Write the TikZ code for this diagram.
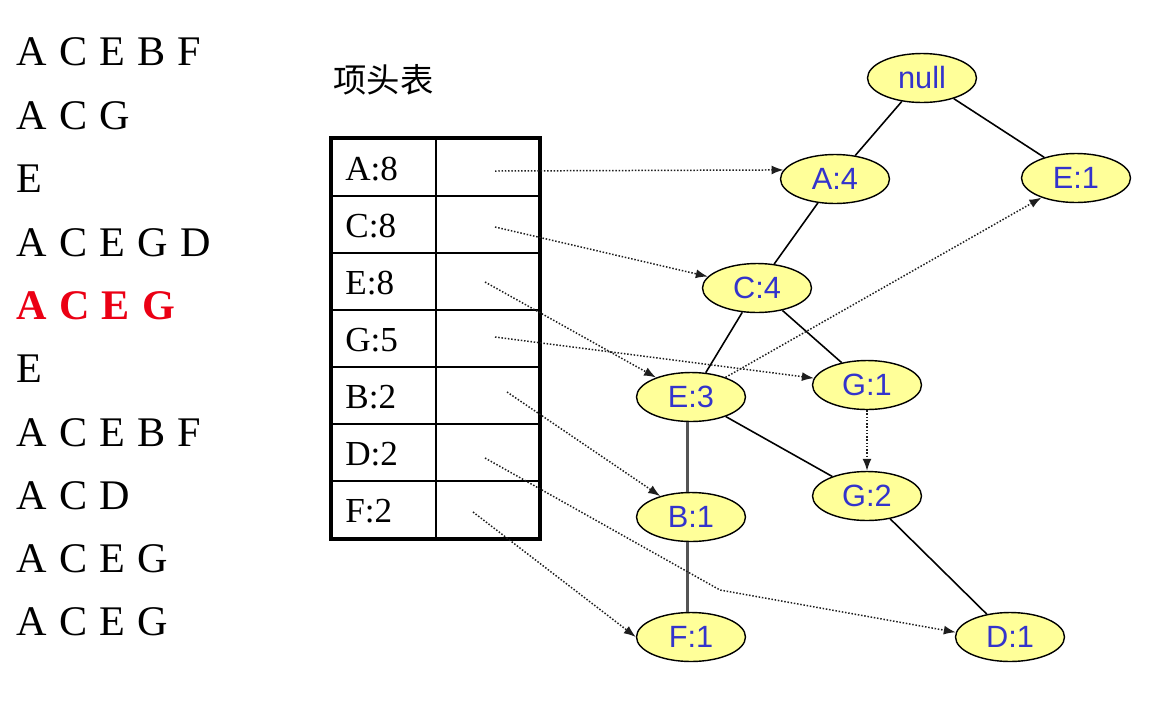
\documentclass[tikz,border=0pt]{standalone}
\usepackage{fontspec}
\setmainfont{Liberation Serif}
\newfontfamily\arialfont{Liberation Sans}
\newfontfamily\cjkfont{Noto Sans CJK SC}
\usetikzlibrary{arrows.meta, shapes.geometric}
\definecolor{nodefill}{RGB}{255,255,153}
\definecolor{nodetext}{RGB}{51,51,204}
\definecolor{linkgray}{RGB}{30,30,30}
\definecolor{treegray}{RGB}{85,85,85}
\definecolor{hotred}{RGB}{235,0,20}
\tikzset{
  tnode/.style  = {ellipse, draw=black, line width=0.8pt, fill=nodefill,
                   minimum width=2.18cm, minimum height=0.98cm, inner sep=0pt,
                   text=nodetext, font=\arialfont\fontsize{17.5}{20}\selectfont},
  trans/.style  = {anchor=west, inner sep=0pt, font=\fontsize{24}{28}\selectfont,
                   execute at begin node={\spaceskip=7pt\relax}},
  transhl/.style= {trans, text=hotred, font=\fontsize{24}{28}\selectfont\bfseries},
  hdr/.style    = {anchor=west, inner sep=0pt, font=\fontsize{20}{24}\selectfont},
  edge/.style   = {line width=0.9pt},
  link/.style   = {-{Latex[length=2.4mm,width=1.8mm]}, densely dotted,
                   line width=0.85pt, color=linkgray},
}
\begin{document}
\begin{tikzpicture}[x=0.02cm, y=-0.02cm]
  \useasboundingbox (0,0) rectangle (1163,711);
  % transactions
  \node[trans]   (t1)  at (16,52)  {A C E B F};
  \node[trans]   (t2)  at (16,116) {A C G};
  \node[trans]   (t3)  at (16,179) {E};
  \node[trans]   (t4)  at (16,243) {A C E G D};
  \node[transhl] (t5)  at (16,306) {A C E G};
  \node[trans]   (t6)  at (16,369) {E};
  \node[trans]   (t7)  at (16,433) {A C E B F};
  \node[trans]   (t8)  at (16,496) {A C D};
  \node[trans]   (t9)  at (16,559) {A C E G};
  \node[trans]   (t10) at (16,622) {A C E G};

  % header table
  \node[anchor=west, inner sep=0pt, font=\cjkfont\fontsize{19}{22}\selectfont]
    (title) at (333,80) {项头表};
  \draw[line width=1pt] (436,138) -- (436,539);
  \draw[line width=1pt] (331,196) -- (540,196);
  \draw[line width=1pt] (331,253) -- (540,253);
  \draw[line width=1pt] (331,310) -- (540,310);
  \draw[line width=1pt] (331,367) -- (540,367);
  \draw[line width=1pt] (331,424) -- (540,424);
  \draw[line width=1pt] (331,481) -- (540,481);
  \draw[line width=1.8pt] (331,138) rectangle (540,539);
  \node[hdr] (hA) at (345,169) {A:8};
  \node[hdr] (hC) at (345,226) {C:8};
  \node[hdr] (hE) at (345,283) {E:8};
  \node[hdr] (hG) at (345,340) {G:5};
  \node[hdr] (hB) at (345,397) {B:2};
  \node[hdr] (hD) at (345,454) {D:2};
  \node[hdr] (hF) at (345,511) {F:2};
  \coordinate (pA) at (495,171);
  \coordinate (pC) at (495,227);
  \coordinate (pE) at (485,282);
  \coordinate (pG) at (495,337);
  \coordinate (pB) at (507,392);
  \coordinate (pD) at (485,458);
  \coordinate (pF) at (473,512);
  \coordinate (bendD) at (720,590);

  % FP-tree
  \node[tnode] (root) at (922,78)  {null};
  \node[tnode] (a4)   at (835,179) {A:4};
  \node[tnode] (e1)   at (1076,178) {E:1};
  \node[tnode] (c4)   at (757,288) {C:4};
  \node[tnode] (e3)   at (691,397) {E:3};
  \node[tnode] (g1)   at (867,385) {G:1};
  \node[tnode] (g2)   at (867,496) {G:2};
  \node[tnode] (b1)   at (691,517) {B:1};
  \node[tnode] (f1)   at (691,637) {F:1};
  \node[tnode] (d1)   at (1010,637) {D:1};
  \draw[edge] (root) -- (a4);
  \draw[edge] (root) -- (e1);
  \draw[edge] (a4) -- (c4);
  \draw[edge] (c4) -- (e3);
  \draw[edge] (c4) -- (g1);
  \draw[edge] (e3) -- (g2);
  \draw[edge] (g2) -- (d1);
  \draw[edge, treegray, line width=1.4pt] (e3.-98) -- (b1.98);
  \draw[edge, treegray, line width=1.4pt] (b1.-98) -- (f1.98);

  % node-links
  \draw[link] (pA) -- (a4.170);
  \draw[link] (pC) -- (c4);
  \draw[link] (pE) -- (e3);
  \draw[link] (pG) -- (g1);
  \draw[link] (pB) -- (b1);
  \draw[link] (pF) -- (f1.west);
  \draw[link] (pD) -- (bendD) -- (d1.175);
  \draw[link] (e3) -- (e1);
  \draw[link] (g1) -- (g2);
\end{tikzpicture}
\end{document}
